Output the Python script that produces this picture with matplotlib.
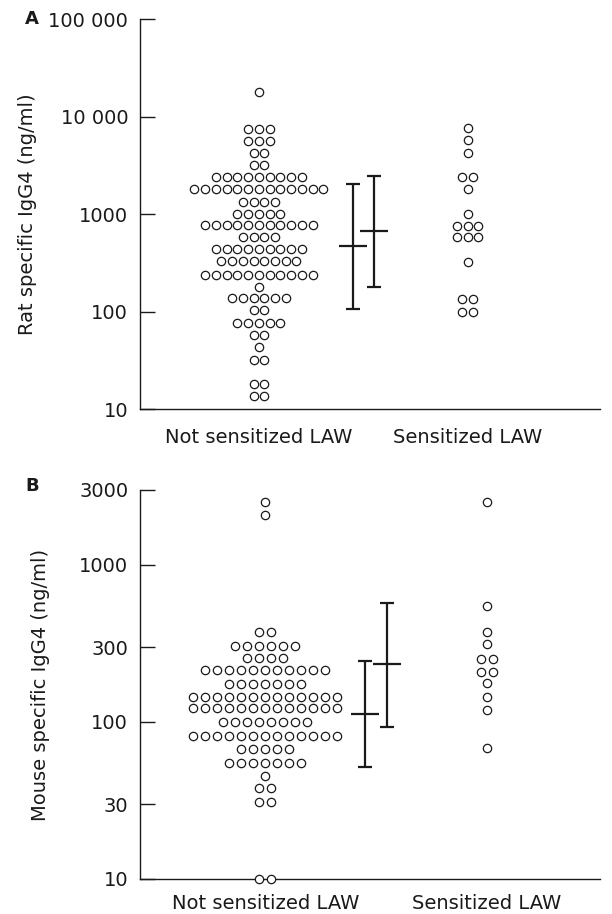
import matplotlib.pyplot as plt
import numpy as np

# Panel A: rat specific IgG4 (ng/ml), one row of dots per value level
rat_ns_levels = [18000, 7500, 5700, 4300, 3200, 2400, 1800, 1350, 1000, 770, 580,
                 435, 330, 240, 180, 137, 103, 76, 57, 43, 32, 18, 13.5]
rat_ns_counts = [1, 3, 3, 2, 2, 9, 13, 4, 5, 11, 4, 9, 8, 11, 1, 6, 2, 5, 2, 1, 2, 2, 2]
rat_s_levels = [7600, 5800, 4300, 2400, 1800, 1000, 760, 580, 320, 135, 100]
rat_s_counts = [1, 1, 1, 2, 1, 1, 3, 3, 1, 2, 2]
rat_mean = [470, 670]
rat_low = [107, 178]
rat_high = [2030, 2450]

# Panel B: mouse specific IgG4 (ng/ml)
mouse_ns_levels = [2520, 2080, 376, 306, 255, 214, 174, 145, 122, 100, 81, 67, 55,
                   45.5, 37.8, 31, 10]
mouse_ns_counts = [1, 1, 2, 6, 4, 11, 7, 13, 13, 8, 13, 5, 7, 1, 2, 2, 2]
mouse_s_levels = [2520, 548, 376, 312, 252, 209, 177, 145, 120, 68]
mouse_s_counts = [1, 1, 1, 1, 2, 2, 1, 1, 1, 1]
mouse_mean = [112, 233]
mouse_low = [52, 93]
mouse_high = [245, 570]

groups = ["Not sensitized LAW", "Sensitized LAW"]

INK = "#1a1a1a"
plt.rcParams["font.family"] = ["DejaVu Sans"]
plt.rcParams["font.size"] = 14


def swarm(ax, center, levels, counts, step):
    xs, ys = [], []
    for v, n in zip(levels, counts):
        for i in range(n):
            xs.append(center + (i - (n - 1) / 2) * step)
            ys.append(v)
    ax.scatter(xs, ys, s=36, facecolors="white", edgecolors=INK,
               linewidths=0.9, zorder=3, clip_on=False)


def summary(ax, mean, low, high):
    xpos = [0.45, 0.55]
    for x, m, lo, hi in zip(xpos, mean, low, high):
        ax.errorbar([x], [m], yerr=[[m - lo], [hi - m]], fmt="_", color=INK,
                    ms=20, mew=1.6, elinewidth=1.6, capsize=5, capthick=1.6,
                    zorder=2)


def style(ax, ticks, ticklabels, ylabel, xlim, ylim, label_x, xpad):
    ax.set_yscale("log")
    ax.set_ylim(*ylim)
    ax.set_xlim(*xlim)
    ax.set_yticks(ticks)
    ax.set_yticklabels(ticklabels)
    ax.minorticks_off()
    ax.set_xticks([0, 1])
    ax.set_xticklabels(groups)
    ax.tick_params(axis="y", direction="in", length=11, width=1.0, pad=8.5,
                   colors=INK)
    ax.tick_params(axis="x", length=0, pad=xpad, colors=INK)
    for side in ("top", "right"):
        ax.spines[side].set_visible(False)
    for side in ("left", "bottom"):
        ax.spines[side].set_color(INK)
        ax.spines[side].set_linewidth(1.0)
    ax.set_ylabel(ylabel, color=INK)
    ax.yaxis.set_label_coords(label_x, 0.5)


fig = plt.figure(figsize=(6.12, 9.14), dpi=100)

ax_a = fig.add_axes([0.2288, 0.5525, 0.7512, 0.4262])
swarm(ax_a, 0, rat_ns_levels, rat_ns_counts, 0.0514)
swarm(ax_a, 1, rat_s_levels, rat_s_counts, 0.0514)
summary(ax_a, rat_mean, rat_low, rat_high)
style(ax_a, [10, 100, 1000, 10000, 100000],
      ["10", "100", "1000", "10 000", "100 000"],
      "Rat specific IgG4 (ng/ml)", (-0.569, 1.632), (10, 100000), -0.224, 14)

ax_b = fig.add_axes([0.2288, 0.0383, 0.7512, 0.4256])
swarm(ax_b, 0, mouse_ns_levels, mouse_ns_counts, 0.0543)
swarm(ax_b, 1, mouse_s_levels, mouse_s_counts, 0.0543)
summary(ax_b, mouse_mean, mouse_low, mouse_high)
style(ax_b, [10, 30, 100, 300, 1000, 3000],
      ["10", "30", "100", "300", "1000", "3000"],
      "Mouse specific IgG4 (ng/ml)", (-0.567, 1.512), (10, 3000), -0.196, 11)

fig.text(32 / 612, 1 - 19 / 914, "A", fontsize=13, fontweight="bold",
         ha="center", va="center", color=INK)
fig.text(32 / 612, 1 - 486 / 914, "B", fontsize=13, fontweight="bold",
         ha="center", va="center", color=INK)

fig.savefig("out.png", dpi=100)
